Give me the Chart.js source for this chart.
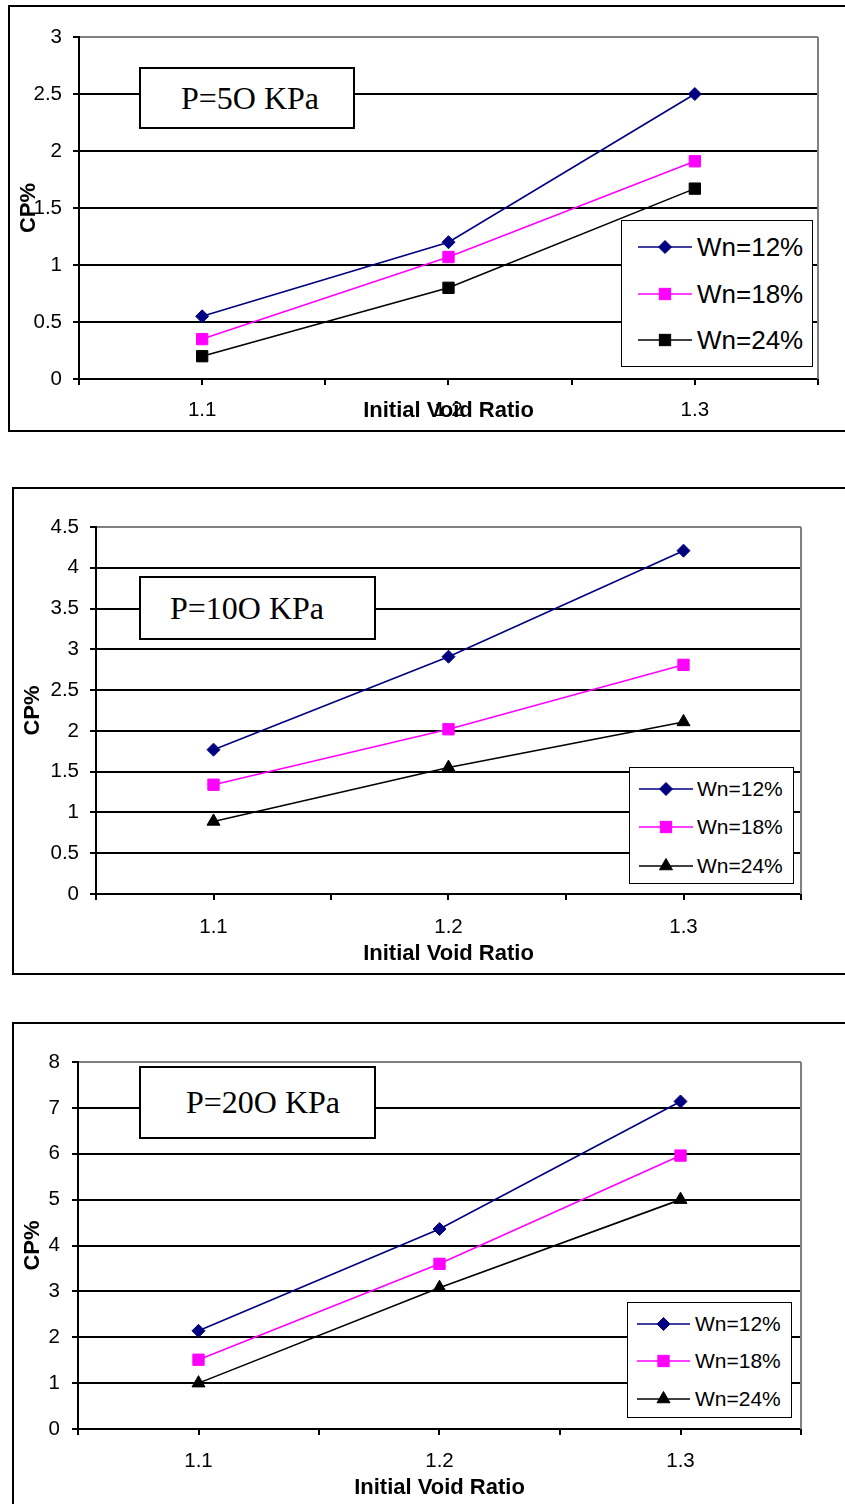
<!DOCTYPE html>
<html>
<head>
<meta charset="utf-8">
<script src="https://cdn.jsdelivr.net/npm/chart.js@4.4.1/dist/chart.umd.min.js"></script>
<style>
html,body{margin:0;padding:0;overflow:hidden;background:#fff;width:845px;height:1504px;position:relative;}
.frame{position:absolute;border:2px solid #000;background:#fff;overflow:hidden;}
.frame canvas{position:absolute;left:0;top:0;}
.note{position:absolute;box-sizing:border-box;border:2px solid #000;background:#fff;font-family:'Liberation Serif','Times New Roman',serif;font-size:32px;color:#000;white-space:nowrap;display:flex;align-items:center;}
.legend{position:absolute;box-sizing:border-box;border:1.5px solid #000;background:#fff;font-family:'Liberation Sans',Arial,sans-serif;color:#000;}
.legend .row{position:absolute;left:0;right:0;height:30px;}
.legend svg{position:absolute;top:0;}
.legend span{position:absolute;top:0;height:30px;line-height:30px;white-space:nowrap;}
</style>
</head>
<body>
<div class="frame" id="f1" style="left:8px;top:5px;width:837px;height:423px;"><canvas id="c1" width="835" height="423"></canvas></div>
<div class="frame" id="f2" style="left:12px;top:487px;width:833px;height:484px;"><canvas id="c2" width="831" height="484"></canvas></div>
<div class="frame" id="f3" style="left:12px;top:1022px;width:833px;height:484px;"><canvas id="c3" width="831" height="484"></canvas></div>

<script>
// ---------- data ----------
const xValues = [1.1, 1.2, 1.3];
const xTickLabels = ['1.1', '1.2', '1.3'];
const xTickMarks = [1.05, 1.1, 1.15, 1.2, 1.25, 1.3, 1.35];
const seriesNames = ['Wn=12%', 'Wn=18%', 'Wn=24%'];
const seriesColors = ['#000080', '#FF00FF', '#000000'];
const xTitle = 'Initial Void Ratio';
const yTitle = 'CP%';

const p50Title = 'P=5O KPa';
const p50Wn12 = [0.55, 1.2, 2.5];
const p50Wn18 = [0.35, 1.07, 1.91];
const p50Wn24 = [0.2, 0.8, 1.67];
const p50YTicks = [0, 0.5, 1, 1.5, 2, 2.5, 3];

const p100Title = 'P=10O KPa';
const p100Wn12 = [1.77, 2.91, 4.21];
const p100Wn18 = [1.34, 2.02, 2.81];
const p100Wn24 = [0.89, 1.55, 2.11];
const p100YTicks = [0, 0.5, 1, 1.5, 2, 2.5, 3, 3.5, 4, 4.5];

const p200Title = 'P=20O KPa';
const p200Wn12 = [2.14, 4.36, 7.14];
const p200Wn18 = [1.51, 3.6, 5.96];
const p200Wn24 = [1.0, 3.08, 5.0];
const p200YTicks = [0, 1, 2, 3, 4, 5, 6, 7, 8];

const stylesSquare = ['rectRot', 'rect', 'rect'];
const stylesTriangle = ['rectRot', 'rect', 'triangle'];

// ---------- rendering ----------
const markerRadius = {rectRot: 6.5, rect: 8, triangle: 7.5};
const tickFont = 20.5;
const titleFont = 22;
Chart.defaults.font.family = "'Liberation Sans', Arial, sans-serif";
Chart.defaults.color = '#000';

const plotEdge = {
  id: 'plotEdge',
  beforeDatasetsDraw(chart) {
    const {ctx, chartArea: a} = chart;
    ctx.save();
    ctx.strokeStyle = '#808080';
    ctx.lineWidth = 2;
    ctx.beginPath();
    ctx.moveTo(a.right, a.top);
    ctx.lineTo(a.right, a.bottom);
    ctx.stroke();
    ctx.restore();
  }
};

function buildChart(canvasId, series, styles, yTicks, L) {
  const yMax = yTicks[yTicks.length - 1];
  const datasets = series.map((vals, s) => ({
    label: seriesNames[s],
    data: xValues.map((x, i) => ({x: x, y: vals[i]})),
    borderColor: seriesColors[s],
    backgroundColor: seriesColors[s],
    borderWidth: 1.6,
    pointStyle: styles[s],
    pointRadius: markerRadius[styles[s]],
    pointHoverRadius: markerRadius[styles[s]],
    pointBorderWidth: 1,
    pointBorderColor: seriesColors[s],
    pointBackgroundColor: seriesColors[s],
    tension: 0,
    fill: false,
    clip: false
  }));
  return new Chart(document.getElementById(canvasId), {
    type: 'line',
    data: {datasets},
    options: {
      responsive: false,
      animation: false,
      events: [],
      layout: {padding: {left: 0, top: L.top, right: L.right, bottom: 0}},
      plugins: {legend: {display: false}, tooltip: {enabled: false}},
      scales: {
        x: {
          type: 'linear', min: xTickMarks[0], max: xTickMarks[xTickMarks.length - 1],
          afterBuildTicks: s => { s.ticks = xTickMarks.map(v => ({value: v})); },
          afterFit: s => { s.height = L.xH; },
          ticks: {
            autoSkip: false, maxRotation: 0, padding: L.xPad, color: '#000', font: {size: tickFont},
            callback: v => { const i = xValues.findIndex(c => Math.abs(c - v) < 1e-9); return i >= 0 ? xTickLabels[i] : ''; }
          },
          grid: {drawOnChartArea: false, drawTicks: true, tickLength: 6, color: '#000', lineWidth: 2},
          border: {display: true, color: '#000', width: 2},
          title: {display: true, text: xTitle, color: '#000', font: {size: titleFont, weight: 'bold'}, padding: {top: 0, bottom: L.xTitlePad}}
        },
        y: {
          type: 'linear', min: yTicks[0], max: yMax,
          afterBuildTicks: s => { s.ticks = yTicks.map(v => ({value: v})); },
          afterFit: s => { s.width = L.yW; },
          ticks: {padding: L.yPad, color: '#000', font: {size: tickFont}, callback: v => String(v)},
          grid: {
            color: c => (c.tick && c.tick.value === yMax) ? '#808080' : '#000',
            tickColor: '#000', lineWidth: 2, tickLength: 6, drawTicks: true
          },
          border: {display: true, color: '#000', width: 2},
          title: {display: true, text: yTitle, color: '#000', font: {size: titleFont, weight: 'bold'}, padding: {top: L.yTitlePad, bottom: 0}}
        }
      }
    },
    plugins: [plotEdge]
  });
}

function markerSvg(style, color, cx, cy) {
  const r = markerRadius[style];
  if (style === 'rectRot') {
    return `<polygon points="${cx - r},${cy} ${cx},${cy - r} ${cx + r},${cy} ${cx},${cy + r}" fill="${color}" stroke="${color}" stroke-width="1"/>`;
  }
  if (style === 'triangle') {
    return `<polygon points="${cx},${cy - r} ${cx + 0.866 * r},${cy + 0.5 * r} ${cx - 0.866 * r},${cy + 0.5 * r}" fill="${color}" stroke="${color}" stroke-width="1"/>`;
  }
  const h = Math.SQRT1_2 * r;
  return `<rect x="${cx - h}" y="${cy - h}" width="${2 * h}" height="${2 * h}" fill="${color}" stroke="${color}" stroke-width="1"/>`;
}

function addLegend(styles, G) {
  const box = document.createElement('div');
  box.className = 'legend';
  Object.assign(box.style, {left: G.left + 'px', top: G.top + 'px', width: G.width + 'px', height: G.height + 'px', fontSize: G.font + 'px'});
  seriesNames.forEach((name, s) => {
    const row = document.createElement('div');
    row.className = 'row';
    row.style.top = (G.rowY[s] - 15) + 'px';
    const w = G.lineX1 - G.lineX0;
    const mid = w / 2;
    row.innerHTML = `<svg width="${w}" height="30" style="left:${G.lineX0}px"><line x1="0" y1="15" x2="${w}" y2="15" stroke="${seriesColors[s]}" stroke-width="1.5"/>${markerSvg(styles[s], seriesColors[s], mid, 15)}</svg><span style="left:${G.textX}px">${name}</span>`;
    box.appendChild(row);
  });
  document.body.appendChild(box);
}

function addNote(text, N) {
  const d = document.createElement('div');
  d.className = 'note';
  Object.assign(d.style, {left: N.left + 'px', top: N.top + 'px', width: N.width + 'px', height: N.height + 'px', paddingLeft: N.pad + 'px'});
  d.textContent = text;
  document.body.appendChild(d);
}

buildChart('c1', [p50Wn12, p50Wn18, p50Wn24], stylesSquare, p50YTicks,
  {top: 30, right: 27, yW: 69, xH: 51, xPad: 13, yPad: 11, xTitlePad: 6, yTitlePad: 6});
buildChart('c2', [p100Wn12, p100Wn18, p100Wn24], stylesTriangle, p100YTicks,
  {top: 38, right: 44, yW: 82, xH: 79, xPad: 15, yPad: 11, xTitlePad: 6, yTitlePad: 6});
buildChart('c3', [p200Wn12, p200Wn18, p200Wn24], stylesTriangle, p200YTicks,
  {top: 38, right: 44, yW: 64, xH: 79, xPad: 14, yPad: 12, xTitlePad: 7, yTitlePad: 6});

addNote(p50Title, {left: 139, top: 67, width: 216, height: 62, pad: 40});
addNote(p100Title, {left: 139, top: 576, width: 237, height: 64, pad: 29});
addNote(p200Title, {left: 139, top: 1066, width: 237, height: 73, pad: 45});

addLegend(stylesSquare, {left: 621, top: 220, width: 192, height: 147, font: 26, rowY: [26, 73, 119], lineX0: 16, lineX1: 70, textX: 75});
addLegend(stylesTriangle, {left: 629, top: 767, width: 165, height: 117, font: 21, rowY: [21, 59, 98], lineX0: 9, lineX1: 63, textX: 67});
addLegend(stylesTriangle, {left: 627, top: 1302, width: 165, height: 116, font: 21, rowY: [21, 58, 96], lineX0: 9, lineX1: 62, textX: 67});
</script>
</body>
</html>
